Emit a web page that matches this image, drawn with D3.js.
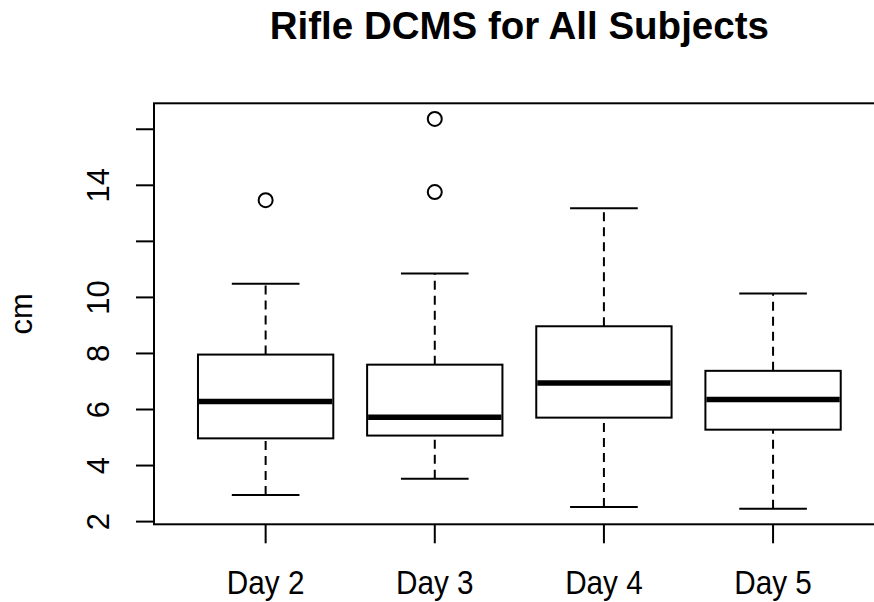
<!DOCTYPE html>
<html>
<head>
<meta charset="utf-8">
<script src="https://cdn.jsdelivr.net/npm/d3@7"></script>
<style>
  body { margin: 0; background: #fff; }
  text { font-family: "Liberation Sans", Arial, sans-serif; fill: #000; }
</style>
</head>
<body>
<svg id="chart" width="874" height="602"></svg>
<script>
var days = ["Day 2", "Day 3", "Day 4", "Day 5"],
    lowerWhisker = [2.95, 3.53, 2.52, 2.46],
    lowerQuartile = [4.97, 5.07, 5.71, 5.28],
    medians = [6.29, 5.72, 6.95, 6.36],
    upperQuartile = [7.96, 7.60, 8.97, 7.38],
    upperWhisker = [10.49, 10.85, 13.18, 10.14],
    outliers = [[13.47], [16.37, 13.76], [], []],
    yTicks = [2, 4, 6, 8, 10, 12, 14, 16],
    yTickLabels = ["2", "4", "6", "8", "10", "", "14", ""];

var svg = d3.select("#chart"),
    plotLeft = 154, plotRight = 884.7, plotTop = 103.3, plotBottom = 524.3;

// R style axes: 4% padding around the data range
var allVals = lowerWhisker.concat(upperWhisker, d3.merge(outliers)),
    yMin = d3.min(allVals), yMax = d3.max(allVals),
    pad = (yMax - yMin) * 0.04;

var y = d3.scaleLinear().domain([yMin - pad, yMax + pad]).range([plotBottom, plotTop]);
var x = d3.scaleLinear().domain([0.34, days.length + 0.66]).range([plotLeft, plotRight]);
var step = x(2) - x(1),
    boxW = step * 0.8,
    capW = boxW * 0.5;

function drawGroup(i) {
    var g = svg.append("g"),
        cx = x(i + 1);

    // whiskers
    g.selectAll("line.whisker")
        .data([[lowerWhisker[i], lowerQuartile[i]], [upperQuartile[i], upperWhisker[i]]])
        .enter().append("line")
        .attr("class", "whisker")
        .attr("x1", cx).attr("x2", cx)
        .attr("y1", function (d) { return y(d[0]); })
        .attr("y2", function (d) { return y(d[1]); })
        .attr("stroke", "#000")
        .attr("stroke-width", 2)
        .attr("stroke-dasharray", "9,6");

    // staples
    g.selectAll("line.cap")
        .data([lowerWhisker[i], upperWhisker[i]])
        .enter().append("line")
        .attr("class", "cap")
        .attr("x1", cx - capW / 2).attr("x2", cx + capW / 2)
        .attr("y1", function (d) { return y(d); })
        .attr("y2", function (d) { return y(d); })
        .attr("stroke", "#000")
        .attr("stroke-width", 2);

    g.append("rect")
        .attr("x", cx - boxW / 2)
        .attr("y", y(upperQuartile[i]))
        .attr("width", boxW)
        .attr("height", y(lowerQuartile[i]) - y(upperQuartile[i]))
        .attr("fill", "#fff")
        .attr("stroke", "#000")
        .attr("stroke-width", 2);

    g.append("line")
        .attr("x1", cx - boxW / 2 + 1).attr("x2", cx + boxW / 2 - 1)
        .attr("y1", y(medians[i])).attr("y2", y(medians[i]))
        .attr("stroke", "#000")
        .attr("stroke-width", 5.5);

    g.selectAll("circle")
        .data(outliers[i])
        .enter().append("circle")
        .attr("cx", cx)
        .attr("cy", function (d) { return y(d); })
        .attr("r", 7)
        .attr("fill", "none")
        .attr("stroke", "#000")
        .attr("stroke-width", 2);
}

days.forEach(function (d, i) { drawGroup(i); });

// frame
svg.append("rect")
    .attr("x", plotLeft).attr("y", plotTop)
    .attr("width", plotRight - plotLeft).attr("height", plotBottom - plotTop)
    .attr("fill", "none")
    .attr("stroke", "#000")
    .attr("stroke-width", 2);

// y axis
yTicks.forEach(function (t, i) {
    svg.append("line")
        .attr("x1", plotLeft - 18).attr("x2", plotLeft)
        .attr("y1", y(t)).attr("y2", y(t))
        .attr("stroke", "#000").attr("stroke-width", 2);
    if (yTickLabels[i]) {
        svg.append("text")
            .attr("transform", "translate(109," + y(t) + ") rotate(-90)")
            .attr("text-anchor", "middle")
            .attr("font-size", 31)
            .text(yTickLabels[i]);
    }
});

// x axis
days.forEach(function (d, i) {
    svg.append("line")
        .attr("x1", x(i + 1)).attr("x2", x(i + 1))
        .attr("y1", plotBottom).attr("y2", plotBottom + 19)
        .attr("stroke", "#000").attr("stroke-width", 2);
    svg.append("text")
        .attr("transform", "translate(" + x(i + 1) + ",594) scale(0.9,1)")
        .attr("text-anchor", "middle")
        .attr("font-size", 33)
        .text(d);
});

svg.append("text")
    .attr("transform", "translate(32," + ((plotTop + plotBottom) / 2) + ") rotate(-90)")
    .attr("text-anchor", "middle")
    .attr("font-size", 31)
    .text("cm");

svg.append("text")
    .attr("x", (plotLeft + plotRight) / 2)
    .attr("y", 39)
    .attr("text-anchor", "middle")
    .attr("font-size", 38.5)
    .attr("font-weight", "bold")
    .text("Rifle DCMS for All Subjects");
</script>
</body>
</html>
